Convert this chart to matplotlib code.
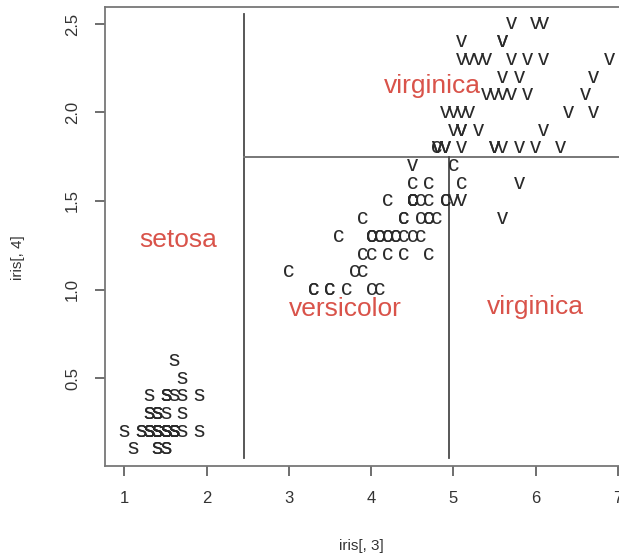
import matplotlib
matplotlib.use("Agg")
import matplotlib.pyplot as plt
import numpy as np

plt.rcParams['font.family'] = ['Liberation Sans', 'DejaVu Sans']

# iris petal length / width (columns 3 and 4)
petal_length = [
    1.4, 1.4, 1.3, 1.5, 1.4, 1.7, 1.4, 1.5, 1.4, 1.5, 1.5, 1.6, 1.4, 1.1, 1.2, 1.5, 1.3, 1.4, 1.7, 1.5,
    1.7, 1.5, 1.0, 1.7, 1.9, 1.6, 1.6, 1.5, 1.4, 1.6, 1.6, 1.5, 1.5, 1.4, 1.5, 1.2, 1.3, 1.4, 1.3, 1.5,
    1.3, 1.3, 1.3, 1.6, 1.9, 1.4, 1.6, 1.4, 1.5, 1.4,
    4.7, 4.5, 4.9, 4.0, 4.6, 4.5, 4.7, 3.3, 4.6, 3.9, 3.5, 4.2, 4.0, 4.7, 3.6, 4.4, 4.5, 4.1, 4.5, 3.9,
    4.8, 4.0, 4.9, 4.7, 4.3, 4.4, 4.8, 5.0, 4.5, 3.5, 3.8, 3.7, 3.9, 5.1, 4.5, 4.5, 4.7, 4.4, 4.1, 4.0,
    4.4, 4.6, 4.0, 3.3, 4.2, 4.2, 4.2, 4.3, 3.0, 4.1,
    6.0, 5.1, 5.9, 5.6, 5.8, 6.6, 4.5, 6.3, 5.8, 6.1, 5.1, 5.3, 5.5, 5.0, 5.1, 5.3, 5.5, 6.7, 6.9, 5.0,
    5.7, 4.9, 6.7, 4.9, 5.7, 6.0, 4.8, 4.9, 5.6, 5.8, 6.1, 6.4, 5.6, 5.1, 5.6, 6.1, 5.6, 5.5, 4.8, 5.4,
    5.6, 5.1, 5.1, 5.9, 5.7, 5.2, 5.0, 5.2, 5.4, 5.1,
]
petal_width = [
    0.2, 0.2, 0.2, 0.2, 0.2, 0.4, 0.3, 0.2, 0.2, 0.1, 0.2, 0.2, 0.1, 0.1, 0.2, 0.4, 0.4, 0.3, 0.3, 0.3,
    0.2, 0.4, 0.2, 0.5, 0.2, 0.2, 0.4, 0.2, 0.2, 0.2, 0.2, 0.4, 0.1, 0.2, 0.2, 0.2, 0.2, 0.1, 0.2, 0.2,
    0.3, 0.3, 0.2, 0.6, 0.4, 0.3, 0.2, 0.2, 0.2, 0.2,
    1.4, 1.5, 1.5, 1.3, 1.5, 1.3, 1.6, 1.0, 1.3, 1.4, 1.0, 1.5, 1.0, 1.4, 1.3, 1.4, 1.5, 1.0, 1.5, 1.1,
    1.8, 1.3, 1.5, 1.2, 1.3, 1.4, 1.4, 1.7, 1.5, 1.0, 1.1, 1.0, 1.2, 1.6, 1.5, 1.6, 1.5, 1.3, 1.3, 1.3,
    1.2, 1.4, 1.2, 1.0, 1.3, 1.2, 1.3, 1.3, 1.1, 1.3,
    2.5, 1.9, 2.1, 1.8, 2.2, 2.1, 1.7, 1.8, 1.8, 2.5, 2.0, 1.9, 2.1, 2.0, 2.4, 2.3, 1.8, 2.2, 2.3, 1.5,
    2.3, 2.0, 2.0, 1.8, 2.1, 1.8, 1.8, 1.8, 2.1, 1.6, 1.9, 2.0, 2.2, 1.5, 1.4, 2.3, 2.4, 1.8, 1.8, 2.1,
    2.4, 2.3, 1.9, 2.3, 2.5, 2.3, 1.9, 2.0, 2.3, 1.8,
]
species = ["setosa"] * 50 + ["versicolor"] * 50 + ["virginica"] * 50
symbols = {"setosa": "s", "versicolor": "c", "virginica": "v"}

# tree splits
split_length_1 = 2.45
split_width = 1.75
split_length_2 = 4.95

# region labels
region_names = ["setosa", "versicolor", "virginica", "virginica"]
region_x = [1.66, 3.69, 6.0, 4.74]
region_y = [1.28, 0.89, 0.90, 2.15]

fig = plt.figure(figsize=(6.19, 5.55), dpi=100)
ax = fig.add_axes([0.1696, 0.1607, 0.8469, 0.8267])

ax.set_xlim(0.764, 7.136)
ax.set_ylim(0.004, 2.596)

ink = "#2a2a2a"
for x, y, sp in zip(petal_length, petal_width, species):
    ax.text(x, y, symbols[sp], ha="center", va="center", fontsize=16, color=ink)

line_col = "#4a4a4a"
ax.axvline(split_length_1, ymin=0.017, ymax=0.985, color=line_col, lw=1.3)
ax.plot([split_length_1, 7.2], [split_width, split_width], color="#777777", lw=1.4)
ylo = ax.get_ylim()[0] + 0.017 * (ax.get_ylim()[1] - ax.get_ylim()[0])
ax.plot([split_length_2, split_length_2], [ylo, split_width], color=line_col, lw=1.3)

for name, x, y in zip(region_names, region_x, region_y):
    ax.text(x, y, name, ha="center", va="center", fontsize=19, color="#d9534a")

ax.set_xticks([1, 2, 3, 4, 5, 6, 7])
ax.set_yticks([0.5, 1.0, 1.5, 2.0, 2.5])
ax.set_yticklabels(["0.5", "1.0", "1.5", "2.0", "2.5"], rotation=90, va="center")
ax.tick_params(axis="both", direction="out", length=7, width=1.2, color="#555555",
               labelsize=12, labelcolor="#333333", pad=11)
for side in ["left", "bottom", "top", "right"]:
    ax.spines[side].set_color("#777777")
    ax.spines[side].set_linewidth(1.3)

fig.text(361 / 619, 1 - 546 / 555, "iris[, 3]", ha="center", va="center", fontsize=11, color="#333333")
fig.text(18 / 619, 1 - 258 / 555, "iris[, 4]", ha="center", va="center", fontsize=11, color="#333333",
         rotation=90)

fig.savefig("out.png", dpi=100)
